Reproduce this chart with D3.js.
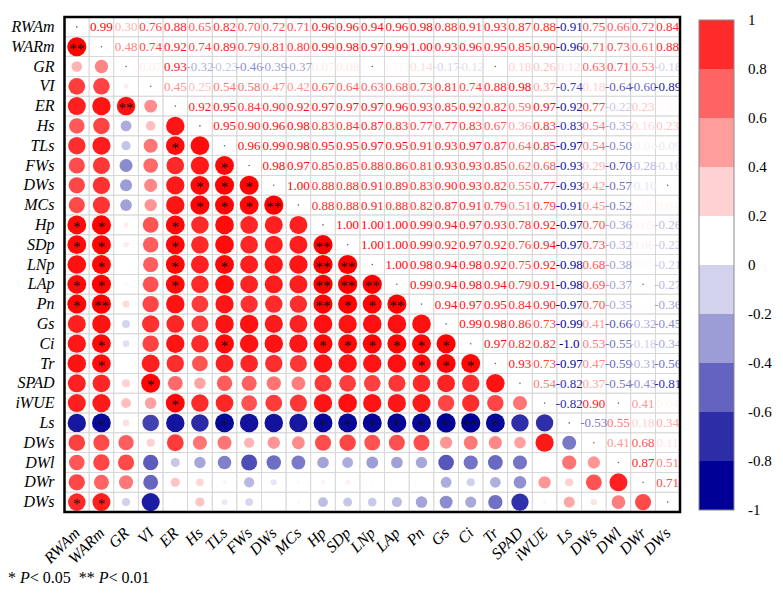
<!DOCTYPE html>
<html>
<head>
<meta charset="utf-8">
<script src="https://cdn.jsdelivr.net/npm/d3@7"></script>
<style>
  body { margin: 0; background: #fff; }
</style>
</head>
<body>
<svg id="chart" width="783" height="600"></svg>
<script>
// variable names (DWs appears three times in the source figure)
const variables = ["RWAm", "WARm", "GR", "VI", "ER", "Hs", "TLs", "FWs", "DWs", "MCs",
  "Hp", "SDp", "LNp", "LAp", "Pn", "Gs", "Ci", "Tr", "SPAD", "iWUE",
  "Ls", "DWs", "DWl", "DWr", "DWs"];

// upper triangle, row i holds r(i, j) for j = i+1 .. n-1 (0 = shown as a dot)
const upper = [
  [0.99, 0.30, 0.76, 0.88, 0.65, 0.82, 0.70, 0.72, 0.71, 0.96, 0.96, 0.94, 0.96, 0.98, 0.88, 0.91, 0.93, 0.87, 0.88, -0.91, 0.75, 0.66, 0.72, 0.84],
  [0.48, 0.74, 0.92, 0.74, 0.89, 0.79, 0.81, 0.80, 0.99, 0.98, 0.97, 0.99, 1.00, 0.93, 0.96, 0.95, 0.85, 0.90, -0.96, 0.71, 0.73, 0.61, 0.88],
  [0.07, 0.93, -0.32, -0.23, -0.46, -0.39, -0.37, 0.07, 0.08, 0, 0.03, 0.14, -0.17, -0.12, 0, 0.18, 0.26, 0.12, 0.63, 0.71, 0.53, -0.18],
  [0.45, 0.25, 0.54, 0.58, 0.47, 0.42, 0.67, 0.64, 0.63, 0.68, 0.73, 0.81, 0.74, 0.88, 0.98, 0.37, -0.74, 0.18, -0.64, -0.60, -0.89],
  [0.92, 0.95, 0.84, 0.90, 0.92, 0.97, 0.97, 0.97, 0.96, 0.93, 0.85, 0.92, 0.82, 0.59, 0.97, -0.92, 0.77, -0.22, 0.23, 0.02],
  [0.95, 0.90, 0.96, 0.98, 0.83, 0.84, 0.87, 0.83, 0.77, 0.77, 0.83, 0.67, 0.36, 0.83, -0.83, 0.54, -0.35, 0.16, 0.23],
  [0.96, 0.99, 0.98, 0.95, 0.95, 0.97, 0.95, 0.91, 0.93, 0.97, 0.87, 0.64, 0.85, -0.97, 0.54, -0.50, -0.04, -0.09],
  [0.98, 0.97, 0.85, 0.85, 0.88, 0.86, 0.81, 0.93, 0.93, 0.85, 0.62, 0.68, -0.93, 0.29, -0.70, -0.28, -0.16],
  [1.00, 0.88, 0.88, 0.91, 0.89, 0.83, 0.90, 0.93, 0.82, 0.55, 0.77, -0.93, 0.42, -0.57, -0.10, 0],
  [0.88, 0.88, 0.91, 0.88, 0.82, 0.87, 0.91, 0.79, 0.51, 0.79, -0.91, 0.45, -0.52, 0.03, 0.04],
  [1.00, 1.00, 1.00, 0.99, 0.94, 0.97, 0.93, 0.78, 0.92, -0.97, 0.70, -0.36, 0.05, -0.26],
  [1.00, 1.00, 0.99, 0.92, 0.97, 0.92, 0.76, 0.94, -0.97, 0.73, -0.32, 0.06, -0.22],
  [1.00, 0.98, 0.94, 0.98, 0.92, 0.75, 0.92, -0.98, 0.68, -0.38, 0.02, -0.21],
  [0.99, 0.94, 0.98, 0.94, 0.79, 0.91, -0.98, 0.69, -0.37, 0, -0.27],
  [0.94, 0.97, 0.95, 0.84, 0.90, -0.97, 0.70, -0.35, 0.01, -0.36],
  [0.99, 0.98, 0.86, 0.73, -0.99, 0.41, -0.66, -0.32, -0.45],
  [0.97, 0.82, 0.82, -1.00, 0.53, -0.55, -0.18, -0.34],
  [0.93, 0.73, -0.97, 0.47, -0.59, -0.31, -0.56],
  [0.54, -0.82, 0.37, -0.54, -0.43, -0.81],
  [-0.82, 0.90, 0, 0.41, 0.04],
  [-0.53, 0.55, 0.18, 0.34],
  [0.41, 0.68, 0.11],
  [0.87, 0.51],
  [0.71]
];

// significance marks in the lower triangle, [row, col]
const sigOne = [[6, 4], [7, 6], [8, 5], [8, 6], [8, 7], [9, 5], [9, 6], [9, 7],
  [10, 0], [10, 1], [10, 4], [11, 0], [11, 1], [11, 4], [12, 1], [12, 4], [12, 6],
  [13, 0], [13, 1], [13, 4], [14, 0], [14, 11], [14, 12],
  [16, 1], [16, 6], [16, 10], [16, 11], [16, 12], [16, 13], [16, 14], [16, 15],
  [17, 1], [17, 14], [17, 15], [17, 16], [18, 3], [19, 4],
  [20, 1], [20, 6], [20, 10], [20, 11], [20, 12], [20, 13], [20, 14], [20, 15], [20, 17],
  [24, 0], [24, 1]];
const sigTwo = [[1, 0], [4, 2], [9, 8], [11, 10], [12, 10], [12, 11], [13, 10], [13, 11],
  [13, 12], [14, 1], [14, 10], [14, 13], [20, 16]];

const legendTicks = [1, 0.8, 0.6, 0.4, 0.2, 0, -0.2, -0.4, -0.6, -0.8, -1];
const bandColors = ["#ff2a2a", "#ff6464", "#ff9c9c", "#ffd2d2", "#ffffff",
  "#d2d2ec", "#9c9cd6", "#6464c0", "#2d2da8", "#000096"];

const n = variables.length;
const value = (i, j) => i === j ? 1 : (i < j ? upper[i][j - i - 1] : upper[j][i - j - 1]);

const serif = "'Liberation Serif', 'Times New Roman', serif";
const plot = { left: 64.5, right: 680, top: 17, bottom: 512 };

const svg = d3.select("#chart");

const x = d3.scaleBand().domain(d3.range(n)).range([plot.left, plot.right]);
const y = d3.scaleBand().domain(d3.range(n)).range([plot.top, plot.bottom]);
const color = d3.scaleLinear().domain([-1, 0, 1]).range(["#000096", "#ffffff", "#ff0000"]);
const rMax = Math.min(x.bandwidth(), y.bandwidth()) / 2 * 0.97;

const fmt = v => v <= -0.995 ? "-1.0" : v.toFixed(2);

svg.append("defs").append("clipPath").attr("id", "plotClip")
  .append("rect")
  .attr("x", plot.left).attr("y", plot.top)
  .attr("width", plot.right - plot.left).attr("height", plot.bottom - plot.top);

const cells = [];
for (let i = 0; i < n; i++) {
  for (let j = 0; j < n; j++) {
    cells.push({ i, j, v: value(i, j) });
  }
}

// grid
svg.append("g")
  .selectAll("rect")
  .data(cells)
  .join("rect")
  .attr("x", d => x(d.j))
  .attr("y", d => y(d.i))
  .attr("width", x.bandwidth())
  .attr("height", y.bandwidth())
  .attr("fill", "none")
  .attr("stroke", "#d6d6d6")
  .attr("stroke-width", 0.8);

const g = svg.append("g").attr("clip-path", "url(#plotClip)");

// lower triangle circles
g.append("g")
  .selectAll("circle")
  .data(cells.filter(d => d.i > d.j))
  .join("circle")
  .attr("cx", d => x(d.j) + x.bandwidth() / 2)
  .attr("cy", d => y(d.i) + y.bandwidth() / 2)
  .attr("r", d => rMax * Math.sqrt(Math.abs(d.v)))
  .attr("fill", d => color(d.v));

// stars
const stars = sigOne.map(([i, j]) => ({ i, j, s: "*" }))
  .concat(sigTwo.map(([i, j]) => ({ i, j, s: "**" })));
g.append("g")
  .selectAll("text")
  .data(stars)
  .join("text")
  .attr("x", d => x(d.j) + x.bandwidth() / 2)
  .attr("y", d => y(d.i) + y.bandwidth() / 2 + 7)
  .attr("text-anchor", "middle")
  .attr("font-family", serif)
  .attr("font-size", 15)
  .attr("fill", "#111")
  .text(d => d.s);

// upper triangle numbers
g.append("g")
  .selectAll("text")
  .data(cells.filter(d => d.i < d.j && d.v !== 0))
  .join("text")
  .attr("x", d => x(d.j) + x.bandwidth() / 2)
  .attr("y", d => y(d.i) + y.bandwidth() / 2)
  .attr("dy", "0.35em")
  .attr("text-anchor", "middle")
  .attr("font-family", serif)
  .attr("font-size", 13)
  .attr("fill", d => color(d.v))
  .text(d => fmt(d.v));

// dots on diagonal and zero cells
g.append("g")
  .selectAll("circle")
  .data(cells.filter(d => d.i === d.j || (d.i < d.j && d.v === 0)))
  .join("circle")
  .attr("cx", d => x(d.j) + x.bandwidth() / 2)
  .attr("cy", d => y(d.i) + y.bandwidth() / 2)
  .attr("r", 0.8)
  .attr("fill", "#666");

// frame
svg.append("rect")
  .attr("x", plot.left).attr("y", plot.top)
  .attr("width", plot.right - plot.left).attr("height", plot.bottom - plot.top)
  .attr("fill", "none")
  .attr("stroke", "#000")
  .attr("stroke-width", 2.5);

// row labels
const yAxis = svg.append("g")
  .attr("transform", `translate(${plot.left},0)`)
  .call(d3.axisLeft(y).tickSize(0).tickPadding(10).tickFormat(i => variables[i]));
yAxis.select(".domain").remove();
yAxis.selectAll("text")
  .attr("font-family", serif)
  .attr("font-size", 16)
  .attr("font-style", "italic")
  .attr("fill", "#000");

// column labels
const xAxis = svg.append("g")
  .attr("transform", `translate(0,${plot.bottom})`)
  .call(d3.axisBottom(x).tickSize(0).tickFormat(i => variables[i]));
xAxis.select(".domain").remove();
xAxis.selectAll("text")
  .attr("x", 0).attr("y", 0).attr("dy", 0)
  .attr("text-anchor", "end")
  .attr("transform", "translate(4,22) rotate(-45)")
  .attr("font-family", serif)
  .attr("font-size", 16)
  .attr("font-style", "italic")
  .attr("fill", "#000");

// colour legend
const cb = { left: 699, width: 35, top: 20, bottom: 510 };
const cbScale = d3.scaleLinear().domain([1, -1]).range([cb.top, cb.bottom]);
svg.append("g")
  .selectAll("rect")
  .data(bandColors)
  .join("rect")
  .attr("x", cb.left)
  .attr("y", (c, k) => cbScale(1 - 0.2 * k))
  .attr("width", cb.width)
  .attr("height", cbScale(0.8) - cbScale(1))
  .attr("fill", c => c);
svg.append("rect")
  .attr("x", cb.left).attr("y", cb.top)
  .attr("width", cb.width).attr("height", cb.bottom - cb.top)
  .attr("fill", "none")
  .attr("stroke", "#8a8a8a")
  .attr("stroke-width", 1);

const cbAxis = svg.append("g")
  .attr("transform", `translate(${cb.left + cb.width},0)`)
  .call(d3.axisRight(cbScale).tickValues(legendTicks).tickSize(0).tickPadding(14)
    .tickFormat(d => Number.isInteger(d) ? String(d) : d.toFixed(1)));
cbAxis.select(".domain").remove();
cbAxis.selectAll("text")
  .attr("font-family", serif)
  .attr("font-size", 15)
  .attr("fill", "#000");

// footnote
const note = svg.append("text")
  .attr("x", 8).attr("y", 583)
  .attr("font-family", serif)
  .attr("font-size", 16)
  .attr("fill", "#000")
  .attr("xml:space", "preserve");
note.append("tspan").text("* ");
note.append("tspan").attr("font-style", "italic").text("P");
note.append("tspan").text("< 0.05  ** ");
note.append("tspan").attr("font-style", "italic").text("P");
note.append("tspan").text("< 0.01");
</script>
</body>
</html>
